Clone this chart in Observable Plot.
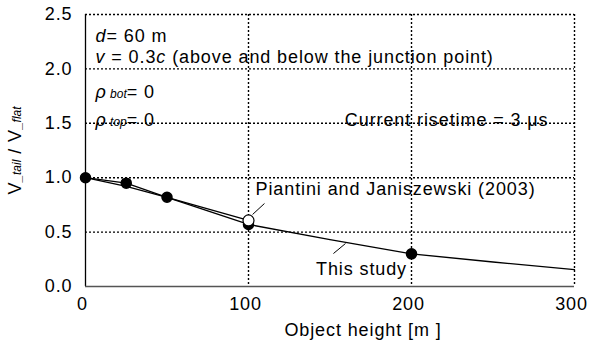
<!DOCTYPE html>
<html>
<head>
<meta charset="utf-8">
<script src="https://cdn.jsdelivr.net/npm/d3@7"></script>
<script src="https://cdn.jsdelivr.net/npm/@observablehq/plot@0.6"></script>
<style>
  html, body { margin: 0; padding: 0; background: #fff; }
  #chart svg text { letter-spacing: 0.9px; }
</style>
</head>
<body>
<div id="chart"></div>
<script>
// Tick values
const xTicks = [0, 100, 200, 300];
const yTicks = [0, 0.5, 1.0, 1.5, 2.0, 2.5];

// This study: ratio vs object height (continuous curve)
const studyHeight = [0, 25, 50, 100, 150, 200, 250, 300];
const studyRatio  = [1.0, 0.92, 0.82, 0.57, 0.43, 0.30, 0.225, 0.155];

// Comparison curve ending at the Piantini and Janiszewski point
const compHeight = [0, 25, 50, 100];
const compRatio  = [1.0, 0.95, 0.82, 0.607];

// Computed points (filled markers)
const dotHeight = [0, 25, 50, 100, 200];
const dotRatio  = [1.0, 0.95, 0.82, 0.57, 0.30];

// Piantini and Janiszewski (2003) point (open marker)
const pjHeight = [100];
const pjRatio  = [0.607];

const zip = (xs, ys) => xs.map((x, i) => ({h: x, v: ys[i]}));
const study = zip(studyHeight, studyRatio);
const comp = zip(compHeight, compRatio);
const dots = zip(dotHeight, dotRatio);
const pj = zip(pjHeight, pjRatio);

const FONT = "'Liberation Sans', Arial, Helvetica, sans-serif";
const grid = {stroke: "#000", strokeWidth: 1.4, strokeDasharray: "2,2"};
const txt = {fontSize: 18, fill: "#000"};

const plot = Plot.plot({
  width: 589,
  height: 349,
  marginLeft: 85,
  marginRight: 15,
  marginTop: 14,
  marginBottom: 63,
  style: {fontFamily: FONT, fontSize: "18px", color: "#000", background: "#fff"},
  x: {domain: [0, 300], label: null},
  y: {domain: [0, 2.5], label: null},
  marks: [
    Plot.axisX({ticks: xTicks, tickSize: 0, tickPadding: 11, dx: -3, label: null}),
    Plot.axisY({ticks: yTicks, tickSize: 0, tickPadding: 13, tickFormat: d3.format(".1f"), label: null}),
    // dotted grid, including top and right edges
    Plot.ruleY(yTicks.filter(d => d > 0), grid),
    Plot.ruleX(xTicks.filter(d => d > 0), grid),
    // solid left and bottom axes
    Plot.ruleX([0], {stroke: "#000", strokeWidth: 1.3}),
    Plot.ruleY([0], {stroke: "#555", strokeWidth: 1.3}),
    // curves
    Plot.line(comp, {x: "h", y: "v", stroke: "#000", strokeWidth: 1.3}),
    Plot.line(study, {x: "h", y: "v", stroke: "#000", strokeWidth: 1.3}),
    Plot.dot(dots, {x: "h", y: "v", r: 5, fill: "#000", stroke: "#000"}),
    Plot.dot(pj, {x: "h", y: "v", r: 5.5, fill: "#fff", stroke: "#000", strokeWidth: 1.2}),
    // callout leaders
    Plot.link([0], {x1: () => 102.5, y1: () => 0.662, x2: () => 109.8, y2: () => 0.763, stroke: "#000", strokeWidth: 1}),
    Plot.link([0], {x1: () => 152.1, y1: () => 0.303, x2: () => 159.5, y2: () => 0.395, stroke: "#000", strokeWidth: 1}),
    // callout labels anchored to their points
    Plot.text(pj, {x: "h", y: "v", text: () => "Piantini and Janiszewski (2003)", textAnchor: "start", dx: 7, dy: -31, ...txt}),
    Plot.text([dots[4]], {x: "h", y: "v", text: () => "This study", textAnchor: "middle", dx: -50, dy: 15, ...txt}),
    // parameter notes
    Plot.text(["d= 60 m"], {frameAnchor: "top-left", dx: 10, dy: 15, textAnchor: "start", ...txt}),
    Plot.text(["v = 0.3c (above and below the junction point)"], {frameAnchor: "top-left", dx: 10, dy: 36, textAnchor: "start", ...txt}),
    Plot.text(["ρbot= 0"], {frameAnchor: "top-left", dx: 10, dy: 71, textAnchor: "start", ...txt}),
    Plot.text(["ρtop= 0"], {frameAnchor: "top-left", dx: 10, dy: 99, textAnchor: "start", ...txt}),
    Plot.text(["Current risetime = 3 μs"], {frameAnchor: "top-right", dx: -26, dy: 99, textAnchor: "end", ...txt}),
    // axis titles
    Plot.text(["Object height [m ]"], {frameAnchor: "bottom", dx: 33, dy: 49, textAnchor: "middle", ...txt}),
    Plot.text(["V_tail / V_flat"], {frameAnchor: "left", dx: -70, rotate: -90, textAnchor: "middle", ...txt})
  ]
});

// Rebuild a text node from styled segments: "" plain, "i" italic, "s" small italic
function rich(content, segments) {
  for (const node of plot.querySelectorAll("text")) {
    if (node.textContent !== content) continue;
    const t = d3.select(node);
    t.text(null);
    for (const [str, st] of segments) {
      const s = t.append("tspan").text(str);
      if (st === "i" || st === "s") s.attr("font-style", "italic");
      if (st === "s") s.attr("font-size", 12).style("letter-spacing", "0px");
    }
  }
}
rich("d= 60 m", [["d", "i"], ["= 60 m", ""]]);
rich("v = 0.3c (above and below the junction point)", [["v", "i"], [" = 0.3", ""], ["c", "i"], [" (above and below the junction point)", ""]]);
rich("ρbot= 0", [["ρ", "i"], [" bot", "s"], ["= 0", ""]]);
rich("ρtop= 0", [["ρ", "i"], [" top", "s"], ["= 0", ""]]);
rich("V_tail / V_flat", [["V", ""], ["_tail", "s"], [" / V", ""], ["_flat", "s"]]);

document.getElementById("chart").appendChild(plot);
</script>
</body>
</html>
